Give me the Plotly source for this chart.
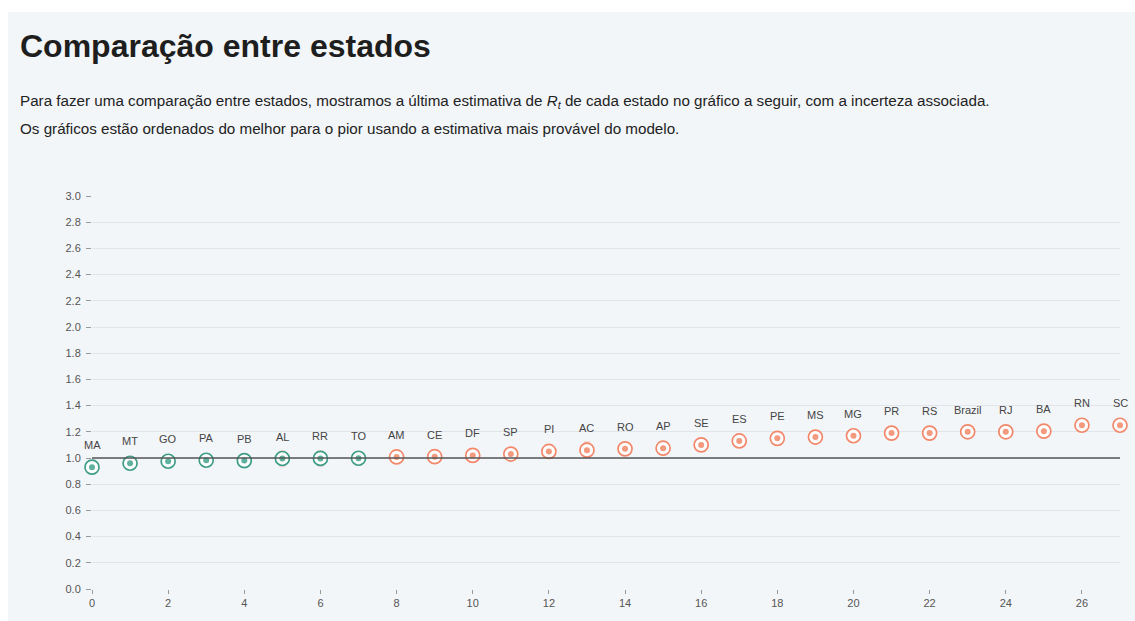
import plotly.graph_objects as go

states = ["MA", "MT", "GO", "PA", "PB", "AL", "RR", "TO", "AM", "CE", "DF", "SP", "PI", "AC",
          "RO", "AP", "SE", "ES", "PE", "MS", "MG", "PR", "RS", "Brazil", "RJ", "BA", "RN", "SC"]
rt_mean = [0.93, 0.96, 0.975, 0.983, 0.98, 0.996, 0.997, 0.998, 1.008, 1.01, 1.02, 1.03, 1.05, 1.06,
           1.07, 1.075, 1.10, 1.13, 1.15, 1.16, 1.17, 1.19, 1.19, 1.20, 1.20, 1.205, 1.25, 1.25]
rt_low = [0.87, 0.93, 0.95, 0.96, 0.95, 0.93, 0.93, 0.94, 0.98, 0.98, 0.99, 1.00, 1.00, 1.00,
          1.02, 1.02, 1.05, 1.10, 1.12, 1.13, 1.14, 1.16, 1.16, 1.18, 1.17, 1.18, 1.22, 1.22]
rt_high = [0.99, 0.99, 1.00, 1.01, 1.01, 1.06, 1.06, 1.05, 1.03, 1.04, 1.05, 1.06, 1.09, 1.13,
           1.12, 1.13, 1.15, 1.16, 1.18, 1.19, 1.20, 1.22, 1.22, 1.22, 1.23, 1.23, 1.28, 1.28]
y_ticks = [0.0, 0.2, 0.4, 0.6, 0.8, 1.0, 1.2, 1.4, 1.6, 1.8, 2.0, 2.2, 2.4, 2.6, 2.8, 3.0]
x_ticks = list(range(0, 27, 2))

TEAL = "#3e9d86"
TEAL_IN = "#5fb09c"
SALMON = "#f3876a"
SALMON_IN = "#f39a7e"
FONT = "Liberation Sans, Arial, sans-serif"

xs = list(range(len(states)))
ring_col = [TEAL if v <= 1 else SALMON for v in rt_mean]
dot_col = [TEAL_IN if v <= 1 else SALMON_IN for v in rt_mean]

fig = go.Figure()

# uncertainty bars
fig.add_trace(go.Scatter(
    x=xs, y=rt_mean, mode="markers", cliponaxis=False,
    marker=dict(size=1, color="rgba(0,0,0,0)"),
    error_y=dict(type="data", symmetric=False,
                 array=[h - m for h, m in zip(rt_high, rt_mean)],
                 arrayminus=[m - l for m, l in zip(rt_mean, rt_low)],
                 color="rgba(244,150,130,0.3)", thickness=6, width=0),
    hoverinfo="skip", showlegend=False))

# reference line at 1
fig.add_shape(type="line", xref="x", yref="y", x0=0, x1=27, y0=1, y1=1,
              line=dict(color="#555555", width=1.5), layer="above")

# rings
fig.add_trace(go.Scatter(
    x=xs, y=rt_mean, mode="markers", cliponaxis=False,
    marker=dict(size=14, color="rgba(255,255,255,0.9)", line=dict(color=ring_col, width=1.7)),
    hoverinfo="skip", showlegend=False))
# inner dots
fig.add_trace(go.Scatter(
    x=xs, y=rt_mean, mode="markers", cliponaxis=False,
    marker=dict(size=6, color=dot_col, line=dict(width=0)),
    hoverinfo="skip", showlegend=False))

for x, y, s in zip(xs, rt_mean, states):
    fig.add_annotation(x=x, y=y, text=s, showarrow=False, yshift=22, yanchor="middle",
                       font=dict(family=FONT, size=11, color="#444444"))

# full-window figure (body margin removed below)
W, H = 1135, 621
L, T, R, B = 92, 196, 15, 32
PW = W - L - R
PH = H - T - B

def px(xp):
    return (xp - L) / PW

def py(yp):
    return (H - B - yp) / PH

fig.add_annotation(xref="paper", yref="paper", x=px(18), y=py(46), xanchor="left", yanchor="middle",
                   text="<b>Comparação entre estados</b>", showarrow=False,
                   font=dict(family=FONT, size=32, color="#1e1e1e"))
fig.add_annotation(xref="paper", yref="paper", x=px(18), y=py(101), xanchor="left", yanchor="middle",
                   text="Para fazer uma comparação entre estados, mostramos a última estimativa de <i>R<sub>t</sub></i> de cada estado no gráfico a seguir, com a incerteza associada.",
                   showarrow=False,
                   font=dict(family=FONT, size=15.2, color="#222222"))
fig.add_annotation(xref="paper", yref="paper", x=px(18), y=py(128), xanchor="left", yanchor="middle",
                   text="Os gráficos estão ordenados do melhor para o pior usando a estimativa mais provável do modelo.",
                   showarrow=False,
                   font=dict(family=FONT, size=15.2, color="#222222"))

# white page strips at top and left
fig.add_shape(type="rect", xref="paper", yref="paper", x0=px(0), x1=px(1135), y0=py(12), y1=py(0),
              fillcolor="white", line=dict(width=0), layer="below")
fig.add_shape(type="rect", xref="paper", yref="paper", x0=px(0), x1=px(8), y0=py(621), y1=py(0),
              fillcolor="white", line=dict(width=0), layer="below")

fig.update_layout(
    width=W, height=H,
    margin=dict(l=L, r=R, t=T, b=B),
    paper_bgcolor="#f3f6f9", plot_bgcolor="#f3f6f9",
    font=dict(family=FONT, size=11, color="#555555"),
    showlegend=False,
    xaxis=dict(range=[0, 27], tickvals=x_ticks, ticks="outside", ticklen=4, tickcolor="#999999",
               showgrid=False, zeroline=False, showline=False, tickfont=dict(size=11, color="#555555")),
    yaxis=dict(range=[0, 3], tickvals=y_ticks, ticktext=[f"{v:.1f}" for v in y_ticks],
               ticks="outside", ticklen=5, tickcolor="#999999", ticklabelstandoff=3,
               showgrid=True, gridcolor="#e1e5ea", gridwidth=1, zeroline=False, showline=False,
               tickfont=dict(size=11, color="#555555")),
)

fig.write_html("out.html", config={"displayModeBar": False},
               post_script="document.body.style.margin='0';document.documentElement.style.overflow='hidden';document.body.style.overflow='hidden';")
